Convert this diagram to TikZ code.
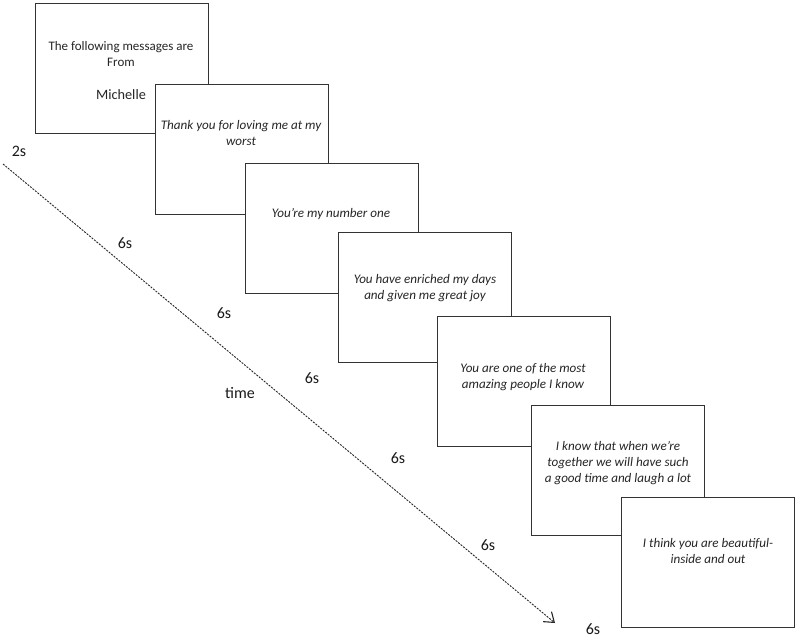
\documentclass[tikz,border=0pt]{standalone}
\usepackage{fontspec}
\setmainfont{Carlito}
\usetikzlibrary{arrows.meta}
\begin{document}
\begin{tikzpicture}[x=1pt,y=-1pt,
  slide/.style={draw=black!80,line width=1.3pt,fill=white,rectangle,anchor=north west,inner sep=0pt,minimum width=173pt,minimum height=130pt},
  msg/.style={align=center,inner sep=0pt,font=\fontsize{13.1}{16}\selectfont\itshape,text=black!85},
  plain/.style={align=center,inner sep=0pt,font=\fontsize{13}{16}\selectfont,text=black!85},
  tlabel/.style={inner sep=0pt,font=\fontsize{16}{18}\selectfont,text=black!90},
  timeline/.style={draw=black!85,line width=0.9pt,dash pattern=on 2pt off 1.2pt,-{Straight Barb[length=9pt,width=13pt,line width=1.1pt]}}]
\useasboundingbox (0,0) rectangle (798,637);
\node[slide] (b1) at (35,3) {};
\node[plain] (t1) at (121,54) {The following messages are\\From};
\node[plain,font=\fontsize{14.3}{16}\selectfont] (t1b) at (121,95) {Michelle};
\node[slide] (b2) at (155,84) {};
\node[msg] (t2) at (241,133) {Thank you for loving me at my\\worst};
\node[slide] (b3) at (245,163) {};
\node[msg] (t3) at (331,214) {You’re my number one};
\node[slide] (b4) at (338,232) {};
\node[msg] (t4) at (425,288) {You have enriched my days\\and given me great joy};
\node[slide] (b5) at (437,316) {};
\node[msg] (t5) at (523,377) {You are one of the most\\amazing people I know};
\node[slide] (b6) at (531,405) {};
\node[msg] (t6) at (618,463) {I know that when we’re\\together we will have such\\a good time and laugh a lot};
\node[slide] (b7) at (621,497) {};
\node[msg] (t7) at (708,551) {I think you are beautiful-\\inside and out};
\coordinate (ls) at (3,164);
\coordinate (le) at (555,623);
\draw[timeline] (ls) -- (le);
\node[tlabel] (l0) at (19,151) {2s};
\node[tlabel] (l1) at (125,243) {6s};
\node[tlabel] (l2) at (224,313) {6s};
\node[tlabel] (lt) at (240,393) {time};
\node[tlabel] (l3) at (312,378) {6s};
\node[tlabel] (l4) at (398,458) {6s};
\node[tlabel] (l5) at (488,545) {6s};
\node[tlabel] (l6) at (593,629) {6s};
\end{tikzpicture}
\end{document}
